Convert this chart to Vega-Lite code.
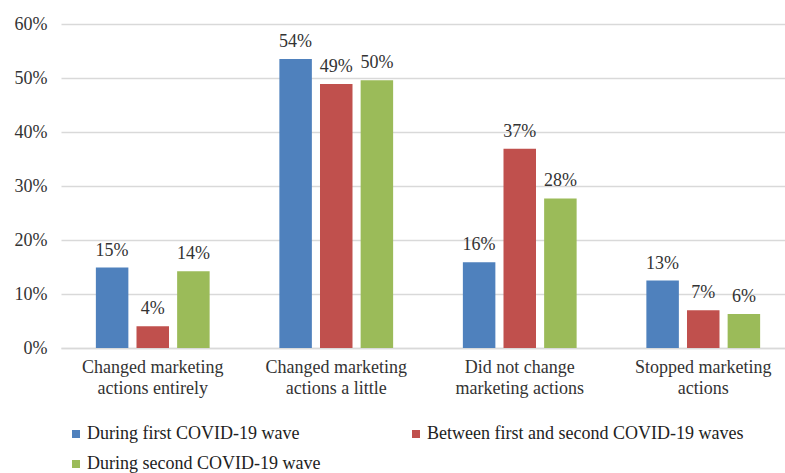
{
  "$schema": "https://vega.github.io/schema/vega-lite/v6.json",
  "autosize": {"type": "none"},
  "width": 734,
  "height": 324,
  "padding": {"left": 61, "top": 24, "right": 0, "bottom": 125},
  "background": "white",
  "config": {
    "font": "Liberation Serif",
    "view": {"stroke": null},
    "axis": {"labelFont": "Liberation Serif", "labelColor": "#333333", "titleFont": "Liberation Serif"},
    "legend": {"labelFont": "Liberation Serif"}
  },
  "data": {
    "values": [
      {"category": "Changed marketing|actions entirely", "period": "During first COVID-19 wave", "value": 0.149},
      {"category": "Changed marketing|actions entirely", "period": "Between first and second COVID-19  waves", "value": 0.0405},
      {"category": "Changed marketing|actions entirely", "period": "During second COVID-19  wave", "value": 0.142},
      {"category": "Changed marketing|actions a little", "period": "During first COVID-19 wave", "value": 0.535},
      {"category": "Changed marketing|actions a little", "period": "Between first and second COVID-19  waves", "value": 0.489},
      {"category": "Changed marketing|actions a little", "period": "During second COVID-19  wave", "value": 0.496},
      {"category": "Did not change|marketing actions", "period": "During first COVID-19 wave", "value": 0.159},
      {"category": "Did not change|marketing actions", "period": "Between first and second COVID-19  waves", "value": 0.369},
      {"category": "Did not change|marketing actions", "period": "During second COVID-19  wave", "value": 0.277},
      {"category": "Stopped marketing|actions", "period": "During first COVID-19 wave", "value": 0.125},
      {"category": "Stopped marketing|actions", "period": "Between first and second COVID-19  waves", "value": 0.07},
      {"category": "Stopped marketing|actions", "period": "During second COVID-19  wave", "value": 0.063}
    ]
  },
  "encoding": {
    "x": {
      "field": "category",
      "type": "nominal",
      "sort": null,
      "scale": {"paddingInner": 0.38, "paddingOuter": 0.19},
      "axis": {
        "title": null,
        "labelAngle": 0,
        "labelExpr": "split(datum.label, '|')",
        "labelFontSize": 18,
        "labelLineHeight": 21,
        "labelPadding": 10,
        "labelLimit": 300,
        "ticks": false,
        "domainColor": "#d9d9d9",
        "domainWidth": 1.5
      }
    },
    "xOffset": {
      "field": "period",
      "type": "nominal",
      "sort": null,
      "scale": {"paddingInner": 0.2, "paddingOuter": 0}
    },
    "y": {
      "field": "value",
      "type": "quantitative",
      "scale": {"domain": [0, 0.6], "nice": false},
      "axis": {
        "title": null,
        "format": ".0%",
        "values": [0, 0.1, 0.2, 0.3, 0.4, 0.5, 0.6],
        "labelFontSize": 18,
        "labelPadding": 14,
        "ticks": false,
        "domain": false,
        "gridColor": "#d9d9d9",
        "gridWidth": 1.5
      }
    }
  },
  "layer": [
    {
      "mark": {"type": "bar"},
      "encoding": {
        "color": {
          "field": "period",
          "type": "nominal",
          "sort": null,
          "scale": {"range": ["#4F81BD", "#C0504D", "#9BBB59"]},
          "legend": {
            "title": null,
            "orient": "none",
            "legendX": 6,
            "legendY": 401,
            "direction": "horizontal",
            "columns": 2,
            "columnPadding": 82,
            "rowPadding": 12,
            "symbolType": "square",
            "symbolSize": 64,
            "symbolStrokeWidth": 0,
            "labelFontSize": 18,
            "labelColor": "#222222",
            "labelOffset": 2,
            "labelLimit": 400
          }
        }
      }
    },
    {
      "mark": {"type": "text", "baseline": "bottom", "dy": -8, "fontSize": 18, "color": "#333333"},
      "encoding": {"text": {"field": "value", "type": "quantitative", "format": ".0%"}}
    }
  ]
}
